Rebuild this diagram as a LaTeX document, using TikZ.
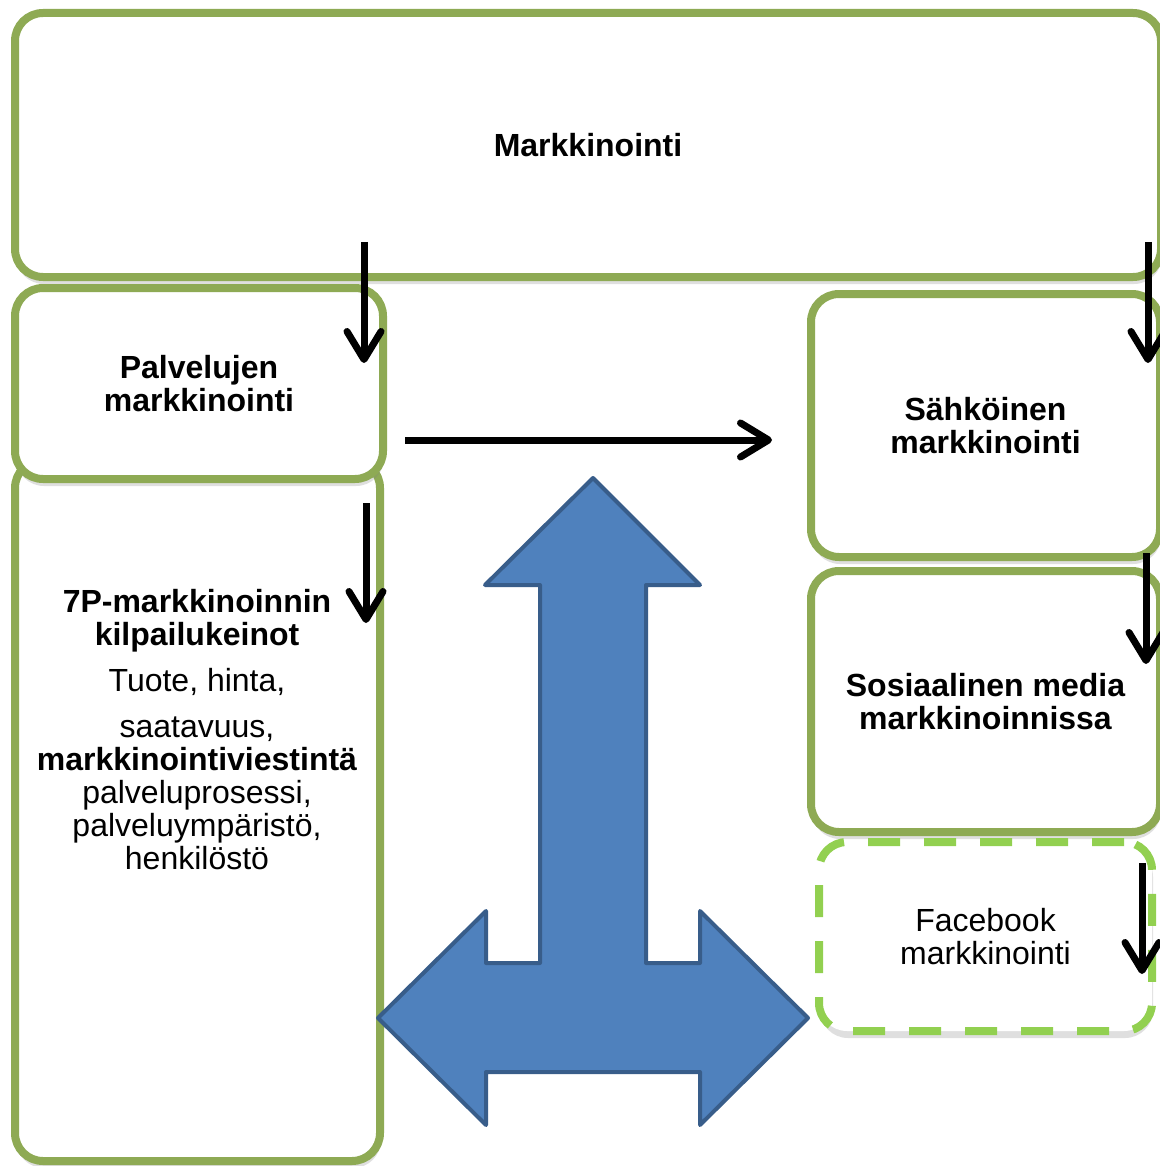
\documentclass[tikz,border=0pt]{standalone}
\usepackage{fontspec}
\setmainfont{Liberation Sans}
\usetikzlibrary{arrows.meta,shadows}
\definecolor{boxgreen}{RGB}{142,170,84}
\definecolor{fbgreen}{RGB}{146,208,80}
\definecolor{arrowblue}{RGB}{79,129,189}
\definecolor{arrowline}{RGB}{56,93,138}

\begin{document}
\begin{tikzpicture}[x=0.5pt, y=-0.5pt,
  box/.style={draw=boxgreen, line width=4pt, fill=white, rounded corners=14pt,
    drop shadow={shadow xshift=0.5pt, shadow yshift=-3.5pt, opacity=0.25},
    inner sep=0pt, align=center, font=\fontsize{16pt}{16.5pt}\selectfont\bfseries},
  fbbox/.style={box, draw=fbgreen, dash pattern=on 16pt off 12pt,
    font=\fontsize{16pt}{16.5pt}\selectfont},
  txt/.style={align=center, inner sep=0pt, font=\fontsize{16pt}{16.5pt}\selectfont},
  flow/.style={line width=3.5pt, -{Straight Barb[length=14pt, width=17pt, round]}}]

  \useasboundingbox (0,0) rectangle (1160,1166);
  \clip (0,0) rectangle (1160,1166);
  \fill[white] (0,0) rectangle (1160,1166);

  % green boxes
  \node[box, minimum width=573pt, minimum height=132pt] (markk) at (588,145) {Markkinointi};
  \node[box, minimum width=182.5pt, minimum height=350.5pt] (kilpailu) at (197.5,810.5) {};
  \node[box, minimum width=184pt, minimum height=95.5pt] (palvelu) at (199,383.5) {Palvelujen\\markkinointi};
  \node[box, minimum width=174.5pt, minimum height=131.5pt] (sahko) at (985.5,425.5) {Sähköinen\\markkinointi};
  \node[box, minimum width=174.5pt, minimum height=130.5pt] (some) at (985.5,701.5) {Sosiaalinen media\\markkinoinnissa};
  \node[fbbox, minimum width=166.5pt, minimum height=94.5pt] (facebook) at (985.5,936.5) {Facebook\\markkinointi};
  \node[txt] (keinot) at (197,730) {\textbf{7P-markkinoinnin}\\\textbf{kilpailukeinot}\\[6.5pt]
    Tuote, hinta,\\[6.5pt] saatavuus,\\\textbf{markkinointiviestintä}\\palveluprosessi,\\
    palveluympäristö,\\henkilöstö};

  % the blue three-way arrow
  \draw[fill=arrowblue, draw=arrowline, line width=2pt, line join=round]
    (593,478) -- (700,585) -- (646,585) -- (646,963) -- (700,963) -- (700,911) --
    (808,1018) -- (700,1125) -- (700,1072) -- (486,1072) -- (486,1125) --
    (378,1018) -- (486,911) -- (486,963) -- (540,963) -- (540,585) -- (485,585) -- cycle;

  % black arrows
  \coordinate (p1) at (364,242);  \coordinate (p1e) at (364,363);
  \coordinate (s1) at (1148,242); \coordinate (s1e) at (1148,363);
  \coordinate (h1) at (405,440);  \coordinate (h1e) at (772,440);
  \coordinate (k1) at (366,503);  \coordinate (k1e) at (366,623);
  \coordinate (m1) at (1146,553); \coordinate (m1e) at (1146,664);
  \coordinate (f1) at (1142,863); \coordinate (f1e) at (1142,974);
  \draw[flow] (p1) -- (p1e);
  \draw[flow] (s1) -- (s1e);
  \draw[flow] (h1) -- (h1e);
  \draw[flow] (k1) -- (k1e);
  \draw[flow] (m1) -- (m1e);
  \draw[flow] (f1) -- (f1e);
\end{tikzpicture}
\end{document}
